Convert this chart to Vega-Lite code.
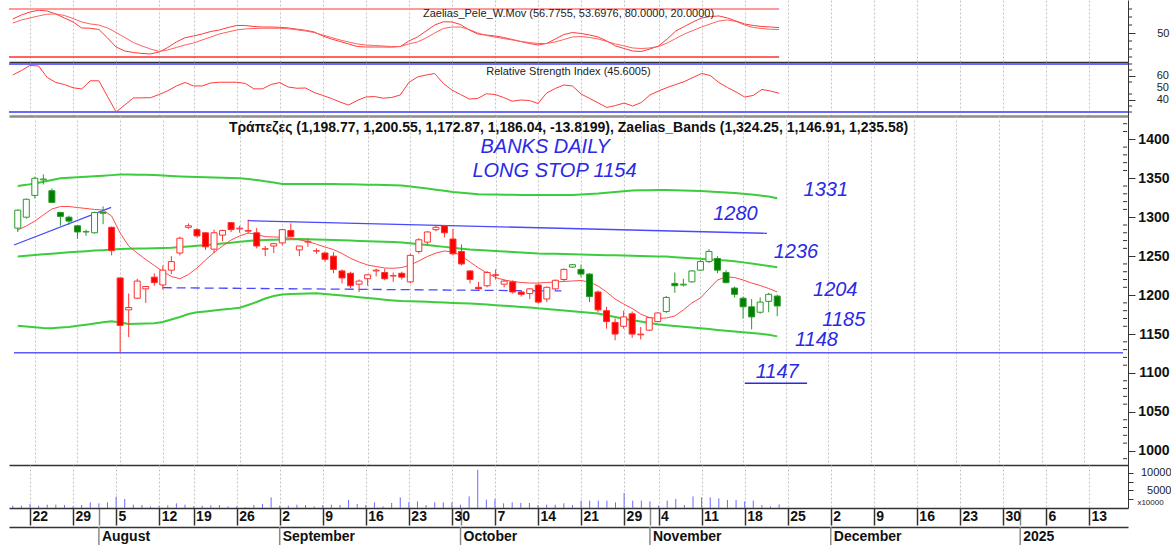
{
  "$schema": "https://vega.github.io/schema/vega-lite/v6.json",
  "padding": {"left": 8, "top": 0, "right": 0, "bottom": 0},
  "spacing": 0,
  "background": "white",
  "resolve": {"scale": {"x": "independent", "y": "independent"}},
  "config": {
    "view": {"stroke": null},
    "font": "Liberation Sans",
    "axis": {"labelFont": "Liberation Sans", "titleFont": "Liberation Sans", "labelOverlap": false},
    "title": {"font": "Liberation Sans"}
  },
  "datasets": {
    "d": [
      {"t":-2,"o":1286,"h":1310,"l":1281,"c":1309,"tr":"bull","ma":1283.6,"ub":1340,"mb":1249.5,"lb":1160.5,"fa":67.5,"sl":62.5,"rsi":60.8,"vol":667},
      {"t":-1,"o":1300,"h":1324,"l":1298,"c":1323,"tr":"bull","ma":1288.7,"ub":1341.5,"mb":1250.5,"lb":1159.7,"fa":72.5,"sl":66.3,"rsi":64.6,"vol":667},
      {"t":0,"o":1328,"h":1352,"l":1324,"c":1350,"tr":"bull","ma":1295,"ub":1343.3,"mb":1251.5,"lb":1158.8,"fa":76.3,"sl":68.8,"rsi":68.8,"vol":1143},
      {"t":1,"o":1348,"h":1355,"l":1342,"c":1349,"tr":"bull","ma":1302.8,"ub":1345.5,"mb":1252.3,"lb":1157.9,"fa":78.4,"sl":71.3,"rsi":68.3,"vol":667},
      {"t":2,"o":1334,"h":1337,"l":1318,"c":1319,"tr":"bull","ma":1310.5,"ub":1347.8,"mb":1253.2,"lb":1157.5,"fa":77.5,"sl":73.5,"rsi":58.8,"vol":952},
      {"t":3,"o":1306,"h":1307,"l":1289,"c":1301,"tr":"bull","ma":1313.7,"ub":1350,"mb":1254,"lb":1158.4,"fa":73.8,"sl":73.8,"rsi":54.6,"vol":952},
      {"t":4,"o":1300,"h":1302,"l":1290,"c":1295,"tr":"bull","ma":1313.7,"ub":1350.7,"mb":1254.9,"lb":1159.2,"fa":68.8,"sl":71.9,"rsi":52.9,"vol":857},
      {"t":5,"o":1289,"h":1290,"l":1272,"c":1281,"tr":"bull","ma":1312.4,"ub":1351.3,"mb":1255.7,"lb":1160.5,"fa":63.8,"sl":68.1,"rsi":50.2,"vol":476},
      {"t":6,"o":1281,"h":1284,"l":1276,"c":1281.5,"tr":"bull","ma":1311.2,"ub":1352,"mb":1256.4,"lb":1162,"fa":56.3,"sl":63.8,"rsi":49.2,"vol":857},
      {"t":7,"o":1280,"h":1307,"l":1279,"c":1306,"tr":"bull","ma":1309.9,"ub":1352.6,"mb":1257.1,"lb":1163.5,"fa":55.9,"sl":61.3,"rsi":56,"vol":1619},
      {"t":8,"o":1305,"h":1314,"l":1291,"c":1306,"tr":"bull","ma":1309.2,"ub":1353.3,"mb":1257.7,"lb":1165.1,"fa":54.4,"sl":60,"rsi":56,"vol":1333},
      {"t":9,"o":1287,"h":1288,"l":1251,"c":1257,"tr":"bear","ma":1301.5,"ub":1354,"mb":1258.4,"lb":1166.4,"fa":43.8,"sl":56.3,"rsi":42.9,"vol":1619},
      {"t":10,"o":1222,"h":1222,"l":1126,"c":1161,"tr":"bear","ma":1279.7,"ub":1354.8,"mb":1259.1,"lb":1164.8,"fa":32.5,"sl":50.6,"rsi":30,"vol":3238},
      {"t":11,"o":1181,"h":1202,"l":1146,"c":1184,"tr":"bear","ma":1263,"ub":1354.8,"mb":1259.4,"lb":1162.9,"fa":27.5,"sl":44.4,"rsi":35.8,"vol":2571},
      {"t":12,"o":1196,"h":1221,"l":1195,"c":1218,"tr":"bear","ma":1254,"ub":1354.6,"mb":1259.7,"lb":1163.2,"fa":25.6,"sl":38.1,"rsi":41.7,"vol":952},
      {"t":13,"o":1208,"h":1211,"l":1190,"c":1211,"tr":"bear","ma":1245.7,"ub":1354.4,"mb":1259.9,"lb":1163.4,"fa":24.4,"sl":33.8,"rsi":41.8,"vol":857},
      {"t":14,"o":1223,"h":1228,"l":1212,"c":1216,"tr":"bear","ma":1238,"ub":1354.2,"mb":1260.2,"lb":1163.8,"fa":23.8,"sl":30,"rsi":41.9,"vol":476},
      {"t":15,"o":1213,"h":1238,"l":1207,"c":1232,"tr":"bear","ma":1230.3,"ub":1353.5,"mb":1260.5,"lb":1165.5,"fa":26.3,"sl":26.9,"rsi":44.6,"vol":667},
      {"t":16,"o":1232,"h":1250,"l":1227,"c":1243,"tr":"bear","ma":1223.9,"ub":1352.8,"mb":1260.8,"lb":1168.7,"fa":31.9,"sl":28.8,"rsi":47.7,"vol":762},
      {"t":17,"o":1254,"h":1275,"l":1251,"c":1273,"tr":"bear","ma":1221,"ub":1352.2,"mb":1261.6,"lb":1171.9,"fa":38.8,"sl":31.9,"rsi":51.7,"vol":1333},
      {"t":18,"o":1287,"h":1292,"l":1285,"c":1289,"tr":"bear","ma":1226.4,"ub":1351.8,"mb":1262.4,"lb":1175.7,"fa":44.1,"sl":35,"rsi":54.6,"vol":952},
      {"t":19,"o":1284,"h":1286,"l":1274,"c":1276,"tr":"bear","ma":1234.8,"ub":1351.5,"mb":1263.3,"lb":1177.9,"fa":46.3,"sl":37.5,"rsi":51.7,"vol":476},
      {"t":20,"o":1280,"h":1281,"l":1258,"c":1262,"tr":"bear","ma":1245,"ub":1351.2,"mb":1264.1,"lb":1179,"fa":48.8,"sl":41.3,"rsi":51.7,"vol":667},
      {"t":21,"o":1259,"h":1284,"l":1254,"c":1280,"tr":"bear","ma":1254.7,"ub":1350.9,"mb":1265.2,"lb":1180.2,"fa":51.9,"sl":45,"rsi":54.2,"vol":762},
      {"t":22,"o":1277,"h":1284,"l":1269,"c":1283,"tr":"bear","ma":1263,"ub":1350.6,"mb":1266.3,"lb":1181.5,"fa":53.8,"sl":48.8,"rsi":54.8,"vol":857},
      {"t":23,"o":1293,"h":1294,"l":1281,"c":1284,"tr":"bear","ma":1270.7,"ub":1350.3,"mb":1267.3,"lb":1182.4,"fa":56.9,"sl":51.3,"rsi":54.8,"vol":476},
      {"t":24,"o":1285,"h":1289,"l":1280,"c":1286,"tr":"bear","ma":1275.9,"ub":1350,"mb":1268.4,"lb":1183.7,"fa":59.4,"sl":53.8,"rsi":54.8,"vol":476},
      {"t":25,"o":1282,"h":1297,"l":1279,"c":1283,"tr":"bear","ma":1279.7,"ub":1349,"mb":1269.4,"lb":1187.3,"fa":59.4,"sl":55,"rsi":53.8,"vol":300},
      {"t":26,"o":1280,"h":1286,"l":1260,"c":1263,"tr":"bear","ma":1278,"ub":1347.8,"mb":1270.5,"lb":1191.1,"fa":58.1,"sl":55.6,"rsi":49.3,"vol":857},
      {"t":27,"o":1259,"h":1263,"l":1250,"c":1259.5,"tr":"bear","ma":1275,"ub":1346,"mb":1270.8,"lb":1195.6,"fa":57.5,"sl":55.9,"rsi":49.3,"vol":1143},
      {"t":28,"o":1263,"h":1267,"l":1254,"c":1266,"tr":"bear","ma":1274.6,"ub":1344.5,"mb":1271.1,"lb":1198.8,"fa":57.5,"sl":55.9,"rsi":52.9,"vol":3048},
      {"t":29,"o":1267,"h":1285,"l":1264,"c":1284,"tr":"bear","ma":1274.3,"ub":1342.6,"mb":1271.4,"lb":1200.8,"fa":57.1,"sl":55.9,"rsi":54.6,"vol":667},
      {"t":30,"o":1283,"h":1292,"l":1274,"c":1275,"tr":"bear","ma":1272.8,"ub":1342.6,"mb":1271.7,"lb":1201.4,"fa":56.3,"sl":55.3,"rsi":50.8,"vol":667},
      {"t":31,"o":1258,"h":1263,"l":1250,"c":1263,"tr":"bear","ma":1271,"ub":1342.6,"mb":1272,"lb":1201.8,"fa":54.8,"sl":54,"rsi":49.8,"vol":952},
      {"t":32,"o":1268,"h":1273,"l":1262,"c":1269,"tr":"bear","ma":1268.8,"ub":1342.6,"mb":1271.7,"lb":1202.2,"fa":53.4,"sl":52.5,"rsi":50,"vol":857},
      {"t":33,"o":1256.5,"h":1260,"l":1253,"c":1257,"tr":"bear","ma":1265.3,"ub":1342.6,"mb":1271.4,"lb":1202.3,"fa":51.3,"sl":50.6,"rsi":46.3,"vol":476},
      {"t":34,"o":1254,"h":1256,"l":1243,"c":1246,"tr":"bear","ma":1261.7,"ub":1342.6,"mb":1271.1,"lb":1201.5,"fa":46.3,"sl":47.5,"rsi":43.8,"vol":857},
      {"t":35,"o":1250,"h":1255,"l":1228,"c":1233,"tr":"bear","ma":1258.4,"ub":1342.6,"mb":1270.8,"lb":1200.5,"fa":42.5,"sl":44.4,"rsi":41.3,"vol":952},
      {"t":36,"o":1231,"h":1233,"l":1215,"c":1222,"tr":"bear","ma":1253.4,"ub":1342.4,"mb":1270.4,"lb":1199.5,"fa":39.4,"sl":41.3,"rsi":38.3,"vol":857},
      {"t":37,"o":1228,"h":1230,"l":1209,"c":1212,"tr":"bear","ma":1247.2,"ub":1342.2,"mb":1270,"lb":1198.4,"fa":36.3,"sl":38.8,"rsi":35.8,"vol":2286},
      {"t":38,"o":1214,"h":1220,"l":1204,"c":1218,"tr":"bear","ma":1242.5,"ub":1342,"mb":1269.6,"lb":1197.3,"fa":33.1,"sl":36.3,"rsi":39.6,"vol":1143},
      {"t":39,"o":1221,"h":1227,"l":1212,"c":1226,"tr":"bear","ma":1238.6,"ub":1341.8,"mb":1269.2,"lb":1196.3,"fa":32.5,"sl":35,"rsi":42.5,"vol":857},
      {"t":40,"o":1231,"h":1234,"l":1224,"c":1232,"tr":"bear","ma":1236.7,"ub":1341.6,"mb":1268.8,"lb":1195.2,"fa":32.5,"sl":34.4,"rsi":42.9,"vol":1619},
      {"t":41,"o":1229,"h":1234,"l":1219,"c":1221,"tr":"bear","ma":1234.8,"ub":1341.3,"mb":1268.4,"lb":1194.1,"fa":32.5,"sl":33.8,"rsi":41.5,"vol":476},
      {"t":42,"o":1224.5,"h":1229,"l":1217,"c":1225,"tr":"bear","ma":1234.4,"ub":1341,"mb":1268,"lb":1193.2,"fa":32.3,"sl":33.1,"rsi":42.1,"vol":1429},
      {"t":43,"o":1228,"h":1230,"l":1220,"c":1223,"tr":"bear","ma":1235.4,"ub":1340.7,"mb":1267.6,"lb":1192.4,"fa":33.1,"sl":33.1,"rsi":44.2,"vol":3048},
      {"t":44,"o":1217,"h":1253,"l":1215,"c":1251,"tr":"bear","ma":1238.6,"ub":1339.5,"mb":1266.5,"lb":1192,"fa":40,"sl":36.3,"rsi":54.6,"vol":1619},
      {"t":45,"o":1256,"h":1273,"l":1253,"c":1271,"tr":"bear","ma":1243.8,"ub":1338.2,"mb":1265.3,"lb":1191.7,"fa":45,"sl":38.8,"rsi":59.2,"vol":1905},
      {"t":46,"o":1268,"h":1282,"l":1265,"c":1281,"tr":"bear","ma":1249.5,"ub":1336.8,"mb":1264.2,"lb":1191.3,"fa":52.5,"sl":43.8,"rsi":60.8,"vol":857},
      {"t":47,"o":1284,"h":1289,"l":1282,"c":1287,"tr":"bear","ma":1254,"ub":1335.3,"mb":1263,"lb":1190.8,"fa":60,"sl":50,"rsi":62.1,"vol":1619},
      {"t":48,"o":1289,"h":1290,"l":1274,"c":1280,"tr":"bear","ma":1256.6,"ub":1333.8,"mb":1261.9,"lb":1190.4,"fa":64,"sl":55.6,"rsi":53.8,"vol":1619},
      {"t":49,"o":1272,"h":1285,"l":1251,"c":1253,"tr":"bear","ma":1255.3,"ub":1332.4,"mb":1260.8,"lb":1190,"fa":63.8,"sl":57.5,"rsi":48.3,"vol":1619},
      {"t":50,"o":1256,"h":1265,"l":1238,"c":1240,"tr":"bear","ma":1250.2,"ub":1331.3,"mb":1259.6,"lb":1189.6,"fa":60.6,"sl":57.5,"rsi":44.6,"vol":952},
      {"t":51,"o":1231,"h":1232,"l":1215,"c":1220,"tr":"bear","ma":1242.5,"ub":1330.3,"mb":1258.5,"lb":1189.2,"fa":53.8,"sl":54.4,"rsi":40.8,"vol":3333},
      {"t":52,"o":1210,"h":1217,"l":1207,"c":1208,"tr":"bear","ma":1234.8,"ub":1329.4,"mb":1257.9,"lb":1188.6,"fa":48.8,"sl":50,"rsi":41.3,"vol":10952},
      {"t":53,"o":1212,"h":1231,"l":1210,"c":1229,"tr":"bear","ma":1228.4,"ub":1329.2,"mb":1257.2,"lb":1187.8,"fa":47.5,"sl":46.9,"rsi":45.2,"vol":2381},
      {"t":54,"o":1226,"h":1233,"l":1220,"c":1225.5,"tr":"bear","ma":1222.6,"ub":1329,"mb":1256.6,"lb":1187,"fa":46.3,"sl":45,"rsi":44.6,"vol":2571},
      {"t":55,"o":1214,"h":1220,"l":1210,"c":1218,"tr":"bear","ma":1219.4,"ub":1328.8,"mb":1256,"lb":1186.4,"fa":44.4,"sl":43.1,"rsi":42.1,"vol":1333},
      {"t":56,"o":1217,"h":1219,"l":1202,"c":1204,"tr":"bear","ma":1217.5,"ub":1328.7,"mb":1255.4,"lb":1185.6,"fa":41.9,"sl":41.3,"rsi":39,"vol":1619},
      {"t":57,"o":1204,"h":1206,"l":1198,"c":1201,"tr":"bear","ma":1216.2,"ub":1328.6,"mb":1254.7,"lb":1184.8,"fa":39.4,"sl":39.4,"rsi":40,"vol":1429},
      {"t":58,"o":1202,"h":1209,"l":1195,"c":1208,"tr":"bear","ma":1215.5,"ub":1328.5,"mb":1254.1,"lb":1184.1,"fa":36.9,"sl":38.1,"rsi":39.6,"vol":1429},
      {"t":59,"o":1213,"h":1215,"l":1189,"c":1191,"tr":"bear","ma":1215.5,"ub":1328.5,"mb":1253.5,"lb":1183,"fa":35,"sl":36.9,"rsi":37.1,"vol":857},
      {"t":60,"o":1195,"h":1211,"l":1191,"c":1210,"tr":"bear","ma":1216.2,"ub":1328.5,"mb":1253.2,"lb":1182.2,"fa":36.9,"sl":36.9,"rsi":45.8,"vol":952},
      {"t":61,"o":1208,"h":1220,"l":1206,"c":1219,"tr":"bear","ma":1216.8,"ub":1328.5,"mb":1253,"lb":1181.1,"fa":42.5,"sl":38.8,"rsi":49.6,"vol":952},
      {"t":62,"o":1220,"h":1234,"l":1218,"c":1233,"tr":"bear","ma":1217.5,"ub":1328.5,"mb":1252.7,"lb":1180.2,"fa":48.1,"sl":41.9,"rsi":52.5,"vol":1333},
      {"t":63,"o":1236,"h":1240,"l":1235,"c":1239,"tr":"bull","ma":1218.1,"ub":1328.5,"mb":1252.4,"lb":1179.2,"fa":50.6,"sl":45,"rsi":51.7,"vol":857},
      {"t":64,"o":1233,"h":1239,"l":1223,"c":1227,"tr":"bull","ma":1218.7,"ub":1329,"mb":1252.2,"lb":1178.3,"fa":49.4,"sl":45.6,"rsi":45,"vol":2095},
      {"t":65,"o":1227,"h":1228,"l":1191,"c":1198,"tr":"bull","ma":1216.8,"ub":1329.7,"mb":1251.9,"lb":1177.3,"fa":47.5,"sl":44.4,"rsi":41.3,"vol":2095},
      {"t":66,"o":1204,"h":1206,"l":1178,"c":1181,"tr":"bear","ma":1211.7,"ub":1330.4,"mb":1251.6,"lb":1176.4,"fa":45,"sl":42.5,"rsi":37.5,"vol":2095},
      {"t":67,"o":1180,"h":1185,"l":1157,"c":1166,"tr":"bear","ma":1204,"ub":1331.4,"mb":1251.3,"lb":1174.2,"fa":40,"sl":39.4,"rsi":33.8,"vol":2095},
      {"t":68,"o":1165,"h":1170,"l":1142,"c":1150,"tr":"bear","ma":1195,"ub":1332.4,"mb":1251,"lb":1171.9,"fa":33.8,"sl":36.3,"rsi":35.4,"vol":1619},
      {"t":69,"o":1160,"h":1180,"l":1157,"c":1172,"tr":"bear","ma":1188.6,"ub":1333.4,"mb":1250.8,"lb":1169.7,"fa":30.6,"sl":33.8,"rsi":37.5,"vol":4286},
      {"t":70,"o":1176,"h":1179,"l":1145,"c":1150,"tr":"bear","ma":1182.8,"ub":1334.3,"mb":1250.5,"lb":1167.6,"fa":27.5,"sl":31.3,"rsi":35,"vol":2095},
      {"t":71,"o":1149,"h":1159,"l":1143,"c":1150,"tr":"bear","ma":1175.7,"ub":1334.5,"mb":1250.2,"lb":1166,"fa":26.9,"sl":30.6,"rsi":37.9,"vol":2095},
      {"t":72,"o":1155,"h":1172,"l":1154,"c":1171,"tr":"bear","ma":1171.2,"ub":1334.7,"mb":1249.9,"lb":1164.3,"fa":30,"sl":31.3,"rsi":44.2,"vol":1905},
      {"t":73,"o":1166,"h":1178,"l":1165,"c":1177,"tr":"bear","ma":1170,"ub":1334.8,"mb":1249.7,"lb":1162.6,"fa":33.8,"sl":33.1,"rsi":47.5,"vol":667},
      {"t":74,"o":1179,"h":1199,"l":1177,"c":1197,"tr":"bull","ma":1170.6,"ub":1334.9,"mb":1249.4,"lb":1161.4,"fa":42.5,"sl":37.5,"rsi":50.4,"vol":2095},
      {"t":75,"o":1215,"h":1229,"l":1203,"c":1212,"tr":"bull","ma":1173.2,"ub":1334.6,"mb":1248.7,"lb":1160.3,"fa":52.5,"sl":43.1,"rsi":52.9,"vol":2571},
      {"t":76,"o":1213,"h":1221,"l":1211,"c":1214,"tr":"bull","ma":1180.9,"ub":1334.3,"mb":1248,"lb":1159.3,"fa":58.1,"sl":48.8,"rsi":55.4,"vol":857},
      {"t":77,"o":1217,"h":1232,"l":1216,"c":1231,"tr":"bull","ma":1189.9,"ub":1334,"mb":1247.2,"lb":1158.4,"fa":63.8,"sl":53.1,"rsi":58.8,"vol":3333},
      {"t":78,"o":1232,"h":1245,"l":1231,"c":1243,"tr":"bull","ma":1196.3,"ub":1333.6,"mb":1246.5,"lb":1157.4,"fa":68.8,"sl":57.5,"rsi":62.1,"vol":3048},
      {"t":79,"o":1243,"h":1259,"l":1241,"c":1256,"tr":"bull","ma":1207.8,"ub":1333,"mb":1245.7,"lb":1156.4,"fa":70.6,"sl":61.3,"rsi":60.4,"vol":3048},
      {"t":80,"o":1247,"h":1250,"l":1228,"c":1232,"tr":"bull","ma":1219.4,"ub":1332.4,"mb":1245,"lb":1155.3,"fa":71.3,"sl":65,"rsi":54.6,"vol":2762},
      {"t":81,"o":1229,"h":1232,"l":1215,"c":1216,"tr":"bull","ma":1223.2,"ub":1331.8,"mb":1244.3,"lb":1154.3,"fa":68.8,"sl":66.3,"rsi":50.4,"vol":2286},
      {"t":82,"o":1209,"h":1211,"l":1197,"c":1201,"tr":"bull","ma":1222.6,"ub":1331.1,"mb":1243.5,"lb":1153.4,"fa":65,"sl":64.4,"rsi":46.7,"vol":2286},
      {"t":83,"o":1196,"h":1198,"l":1170,"c":1185,"tr":"bull","ma":1219.4,"ub":1330,"mb":1242,"lb":1152.4,"fa":61.3,"sl":60,"rsi":42.5,"vol":1905},
      {"t":84,"o":1185,"h":1195,"l":1156,"c":1172,"tr":"bull","ma":1215.5,"ub":1329,"mb":1240.5,"lb":1151.3,"fa":59.4,"sl":56.9,"rsi":43.8,"vol":2095},
      {"t":85,"o":1178,"h":1197,"l":1176,"c":1191,"tr":"bull","ma":1212.3,"ub":1327.9,"mb":1239,"lb":1150.3,"fa":58.1,"sl":55.6,"rsi":48.8,"vol":857},
      {"t":86,"o":1192,"h":1203,"l":1178,"c":1201,"tr":"bull","ma":1208.5,"ub":1326.5,"mb":1237.3,"lb":1149.2,"fa":57.5,"sl":54.6,"rsi":47.5,"vol":476},
      {"t":87,"o":1198.77,"h":1200.55,"l":1172.87,"c":1186.04,"tr":"bull","ma":1204,"ub":1324.3,"mb":1235.6,"lb":1147,"fa":56.8,"sl":54.4,"rsi":45.6,"vol":1048}
    ],
    "ann": [
      {"t":59.8,"v":1390.5,"label":"BANKS DAILY"},
      {"t":60.9,"v":1359.3,"label":"LONG STOP 1154"},
      {"t":92.7,"v":1334.9,"label":"1331"},
      {"t":82.1,"v":1303.5,"label":"1280"},
      {"t":89.2,"v":1254.7,"label":"1236"},
      {"t":93.8,"v":1206.5,"label":"1204"},
      {"t":94.8,"v":1168,"label":"1185"},
      {"t":91.6,"v":1142.3,"label":"1148"},
      {"t":87,"v":1101.3,"label":"1147"}
    ],
    "trendlines": [
      {"id":"a","t":-2.44,"v":1264.3},
      {"id":"a","t":8.94,"v":1312.7},
      {"id":"b","t":24.97,"v":1295.5},
      {"id":"b","t":85.8,"v":1279.3}
    ],
    "dashline": [
      {"t":14.98,"v":1209.5},
      {"t":61.7,"v":1205.3}
    ],
    "months": [
      {"t":8,"label":"August"},
      {"t":29,"label":"September"},
      {"t":50,"label":"October"},
      {"t":72,"label":"November"},
      {"t":93,"label":"December"},
      {"t":115,"label":"2025"}
    ]
  },
  "vconcat": [
    {
      "width": 1119, "height": 62,
      "title": {"text": "Zaelias_Pele_W.Mov (56.7755, 53.6976, 80.0000, 20.0000)", "fontSize": 11, "fontWeight": "normal", "color": "#222222", "anchor": "middle", "offset": -19},
      "data": {"name": "d"},
      "layer": [
        {"mark": {"type": "line", "color": "#ff3b3b", "strokeWidth": 1},
         "encoding": {
           "x": {"field": "t", "type": "quantitative", "scale": {"domain": [-2.44, 127.52], "nice": false, "zero": false},
                 "axis": {"values": [0,5,10,15,19,24,29,34,39,44,49,54,59,64,69,73,78,83,88,93,98,103,108,113,118,123], "grid": true, "gridDash": [2,2], "gridColor": "#c4c4c4", "ticks": false, "labels": false, "domain": true, "domainColor": "#333333", "domainWidth": 1.5, "title": null}},
           "y": {"field": "fa", "type": "quantitative", "scale": {"domain": [13.75, 91.25], "nice": false, "zero": false},
                 "axis": {"orient": "right", "values": [50], "labelOverlap": false, "grid": false, "domainColor": "#333333", "tickColor": "#333333", "tickSize": 7, "labelAlign": "right", "labelPadding": 34, "labelFontSize": 11, "labelColor": "#222222", "title": null}}
         }},
        {"mark": {"type": "line", "color": "#ff6060", "strokeWidth": 1},
         "encoding": {
           "x": {"field": "t", "type": "quantitative", "scale": {"domain": [-2.44, 127.52], "nice": false, "zero": false}},
           "y": {"field": "sl", "type": "quantitative", "scale": {"domain": [13.75, 91.25], "nice": false, "zero": false}}
         }},
        {"data": {"values": [{}]},
         "mark": {"type": "rule", "color": "#ff9a9a", "strokeWidth": 2},
         "encoding": {
           "x": {"datum": -2.44, "type": "quantitative", "scale": {"domain": [-2.44, 127.52], "nice": false, "zero": false}},
           "x2": {"datum": 87},
           "y": {"datum": 80, "type": "quantitative", "scale": {"domain": [13.75, 91.25], "nice": false, "zero": false}}
         }},
        {"data": {"values": [{}]},
         "mark": {"type": "rule", "color": "#ff3030", "strokeWidth": 1.5},
         "encoding": {
           "x": {"datum": -2.44, "type": "quantitative", "scale": {"domain": [-2.44, 127.52], "nice": false, "zero": false}},
           "x2": {"datum": 87},
           "y": {"datum": 20, "type": "quantitative", "scale": {"domain": [13.75, 91.25], "nice": false, "zero": false}}
         }},
        {"data": {"values": [{"v":20},{"v":30},{"v":40},{"v":60},{"v":70},{"v":80}]},
         "mark": {"type": "rule", "color": "#333333", "strokeWidth": 1},
         "encoding": {
           "x": {"datum": 127.52, "type": "quantitative", "scale": {"domain": [-2.44, 127.52], "nice": false, "zero": false}},
           "x2": {"datum": 128.0},
           "y": {"field": "v", "type": "quantitative", "scale": {"domain": [13.75, 91.25], "nice": false, "zero": false}}
         }}
      ]
    },
    {
      "width": 1119, "height": 54,
      "title": {"text": "Relative Strength Index (45.6005)", "fontSize": 11, "fontWeight": "normal", "color": "#222222", "anchor": "middle", "offset": -15},
      "data": {"name": "d"},
      "layer": [
        {"mark": {"type": "line", "color": "#ff3b3b", "strokeWidth": 1},
         "encoding": {
           "x": {"field": "t", "type": "quantitative", "scale": {"domain": [-2.44, 127.52], "nice": false, "zero": false},
                 "axis": {"values": [0,5,10,15,19,24,29,34,39,44,49,54,59,64,69,73,78,83,88,93,98,103,108,113,118,123], "grid": true, "gridDash": [2,2], "gridColor": "#c4c4c4", "ticks": false, "labels": false, "domain": true, "domainColor": "#8c8c8c", "domainWidth": 2.5, "title": null}},
           "y": {"field": "rsi", "type": "quantitative", "scale": {"domain": [26.67, 71.67], "nice": false, "zero": false},
                 "axis": {"orient": "right", "values": [40, 50, 60], "labels": false, "grid": false, "domainColor": "#333333", "tickColor": "#333333", "tickSize": 7, "title": null}}
         }},
        {"data": {"values": [{}]},
         "mark": {"type": "rule", "color": "#6a6aff", "strokeWidth": 2},
         "encoding": {
           "x": {"datum": -2.44, "type": "quantitative", "scale": {"domain": [-2.44, 127.52], "nice": false, "zero": false}},
           "x2": {"datum": 127.52},
           "y": {"datum": 70, "type": "quantitative", "scale": {"domain": [26.67, 71.67], "nice": false, "zero": false}}
         }},
        {"data": {"values": [{}]},
         "mark": {"type": "rule", "color": "#6a6aff", "strokeWidth": 2},
         "encoding": {
           "x": {"datum": -2.44, "type": "quantitative", "scale": {"domain": [-2.44, 127.52], "nice": false, "zero": false}},
           "x2": {"datum": 127.52},
           "y": {"datum": 30, "type": "quantitative", "scale": {"domain": [26.67, 71.67], "nice": false, "zero": false}}
         }},
        {"data": {"values": [{"v":30},{"v":35},{"v":45},{"v":55},{"v":65},{"v":70}]},
         "mark": {"type": "rule", "color": "#333333", "strokeWidth": 1},
         "encoding": {
           "x": {"datum": 127.52, "type": "quantitative", "scale": {"domain": [-2.44, 127.52], "nice": false, "zero": false}},
           "x2": {"datum": 128.0},
           "y": {"field": "v", "type": "quantitative", "scale": {"domain": [26.67, 71.67], "nice": false, "zero": false}}
         }},
        {"data": {"values": [{"v":40,"label":"40"},{"v":50,"label":"50"},{"v":60,"label":"60"}]},
         "mark": {"type": "text", "align": "right", "baseline": "middle", "dx": 41, "fontSize": 11, "color": "#222222"},
         "encoding": {
           "x": {"datum": 127.52, "type": "quantitative", "scale": {"domain": [-2.44, 127.52], "nice": false, "zero": false}},
           "y": {"field": "v", "type": "quantitative", "scale": {"domain": [26.67, 71.67], "nice": false, "zero": false}},
           "text": {"field": "label", "type": "nominal"}
         }}
      ]
    },
    {
      "width": 1119, "height": 349,
      "title": {"text": "Τράπεζες (1,198.77, 1,200.55, 1,172.87, 1,186.04, -13.8199), Zaelias_Bands (1,324.25, 1,146.91, 1,235.58)", "fontSize": 14, "fontWeight": "bold", "color": "#111111", "anchor": "middle", "offset": -19},
      "layer": [
        {"data": {"name": "d"},
         "mark": {"type": "line", "color": "#3ccc3c", "strokeWidth": 2},
         "encoding": {
           "x": {"field": "t", "type": "quantitative", "scale": {"domain": [-2.44, 127.52], "nice": false, "zero": false},
                 "axis": {"values": [0,5,10,15,19,24,29,34,39,44,49,54,59,64,69,73,78,83,88,93,98,103,108,113,118,123], "grid": true, "gridDash": [2,2], "gridColor": "#c4c4c4", "ticks": false, "labels": false, "domain": true, "domainColor": "#333333", "domainWidth": 1.5, "title": null}},
           "y": {"field": "ub", "type": "quantitative", "scale": {"domain": [981.9, 1429.9], "nice": false, "zero": false},
                 "axis": {"orient": "right", "values": [1000,1050,1100,1150,1200,1250,1300,1350,1400], "format": "d", "labelOverlap": false, "grid": false, "domainColor": "#333333", "tickColor": "#333333", "tickSize": 7, "labelAlign": "right", "labelPadding": 34, "labelFontSize": 14, "labelFontWeight": "bold", "labelColor": "#111111", "title": null}}
         }},
        {"data": {"values": [{}]},
         "mark": {"type": "rule", "color": "#5a5aff", "strokeWidth": 1.5},
         "encoding": {
           "x": {"datum": -2.44, "type": "quantitative", "scale": {"domain": [-2.44, 127.52], "nice": false, "zero": false}},
           "x2": {"datum": 127.52},
           "y": {"datum": 1126, "type": "quantitative", "scale": {"domain": [981.9, 1429.9], "nice": false, "zero": false}}
         }},
        {"data": {"name": "d"},
         "mark": {"type": "line", "color": "#3ccc3c", "strokeWidth": 2},
         "encoding": {
           "x": {"field": "t", "type": "quantitative", "scale": {"domain": [-2.44, 127.52], "nice": false, "zero": false}},
           "y": {"field": "mb", "type": "quantitative", "scale": {"domain": [981.9, 1429.9], "nice": false, "zero": false}}
         }},
        {"data": {"name": "d"},
         "mark": {"type": "line", "color": "#3ccc3c", "strokeWidth": 2},
         "encoding": {
           "x": {"field": "t", "type": "quantitative", "scale": {"domain": [-2.44, 127.52], "nice": false, "zero": false}},
           "y": {"field": "lb", "type": "quantitative", "scale": {"domain": [981.9, 1429.9], "nice": false, "zero": false}}
         }},
        {"data": {"name": "d"},
         "mark": {"type": "line", "color": "#ff4a4a", "strokeWidth": 1},
         "encoding": {
           "x": {"field": "t", "type": "quantitative", "scale": {"domain": [-2.44, 127.52], "nice": false, "zero": false}},
           "y": {"field": "ma", "type": "quantitative", "scale": {"domain": [981.9, 1429.9], "nice": false, "zero": false}}
         }},
        {"data": {"name": "trendlines"},
         "mark": {"type": "line", "color": "#4848ff", "strokeWidth": 1.3},
         "encoding": {
           "x": {"field": "t", "type": "quantitative", "scale": {"domain": [-2.44, 127.52], "nice": false, "zero": false}},
           "y": {"field": "v", "type": "quantitative", "scale": {"domain": [981.9, 1429.9], "nice": false, "zero": false}},
           "detail": {"field": "id", "type": "nominal"}
         }},
        {"data": {"name": "dashline"},
         "mark": {"type": "line", "color": "#4848ff", "strokeWidth": 1.3, "strokeDash": [9, 5]},
         "encoding": {
           "x": {"field": "t", "type": "quantitative", "scale": {"domain": [-2.44, 127.52], "nice": false, "zero": false}},
           "y": {"field": "v", "type": "quantitative", "scale": {"domain": [981.9, 1429.9], "nice": false, "zero": false}}
         }},
        {"data": {"name": "d"},
         "mark": {"type": "rule", "strokeWidth": 1},
         "encoding": {
           "x": {"field": "t", "type": "quantitative", "scale": {"domain": [-2.44, 127.52], "nice": false, "zero": false}},
           "y": {"field": "l", "type": "quantitative", "scale": {"domain": [981.9, 1429.9], "nice": false, "zero": false}},
           "y2": {"field": "h"},
           "stroke": {"field": "tr", "type": "nominal", "scale": {"domain": ["bear", "bull"], "range": ["#ff3030", "#2a9a2a"]}, "legend": null}
         }},
        {"data": {"name": "d"},
         "mark": {"type": "bar", "size": 6, "strokeWidth": 1},
         "encoding": {
           "x": {"field": "t", "type": "quantitative", "scale": {"domain": [-2.44, 127.52], "nice": false, "zero": false}},
           "y": {"field": "o", "type": "quantitative", "scale": {"domain": [981.9, 1429.9], "nice": false, "zero": false}},
           "y2": {"field": "c"},
           "stroke": {"field": "tr", "type": "nominal", "scale": {"domain": ["bear", "bull"], "range": ["#ff3030", "#2a9a2a"]}, "legend": null},
           "fill": {"condition": {"test": "datum.c < datum.o", "field": "tr", "type": "nominal", "scale": {"domain": ["bear", "bull"], "range": ["#ff0000", "#008000"]}, "legend": null}, "value": "#ffffff"}
         }},
        {"data": {"name": "ann"},
         "mark": {"type": "text", "font": "Liberation Sans", "fontStyle": "italic", "fontSize": 20, "color": "#2a2ae6", "align": "center", "baseline": "middle"},
         "encoding": {
           "x": {"field": "t", "type": "quantitative", "scale": {"domain": [-2.44, 127.52], "nice": false, "zero": false}},
           "y": {"field": "v", "type": "quantitative", "scale": {"domain": [981.9, 1429.9], "nice": false, "zero": false}},
           "text": {"field": "label", "type": "nominal"}
         }},
        {"data": {"values": [{}]},
         "mark": {"type": "rule", "color": "#2a2ae6", "strokeWidth": 1.5},
         "encoding": {
           "x": {"datum": 83.2, "type": "quantitative", "scale": {"domain": [-2.44, 127.52], "nice": false, "zero": false}},
           "x2": {"datum": 90.5},
           "y": {"datum": 1087, "type": "quantitative", "scale": {"domain": [981.9, 1429.9], "nice": false, "zero": false}}
         }},
        {"data": {"values": [{"v":990},{"v":1010},{"v":1020},{"v":1030},{"v":1040},{"v":1060},{"v":1070},{"v":1080},{"v":1090},{"v":1110},{"v":1120},{"v":1130},{"v":1140},{"v":1160},{"v":1170},{"v":1180},{"v":1190},{"v":1210},{"v":1220},{"v":1230},{"v":1240},{"v":1260},{"v":1270},{"v":1280},{"v":1290},{"v":1310},{"v":1320},{"v":1330},{"v":1340},{"v":1360},{"v":1370},{"v":1380},{"v":1390},{"v":1410},{"v":1420}]},
         "mark": {"type": "rule", "color": "#333333", "strokeWidth": 1},
         "encoding": {
           "x": {"datum": 127.52, "type": "quantitative", "scale": {"domain": [-2.44, 127.52], "nice": false, "zero": false}},
           "x2": {"datum": 128.0},
           "y": {"field": "v", "type": "quantitative", "scale": {"domain": [981.9, 1429.9], "nice": false, "zero": false}}
         }}
      ]
    },
    {
      "width": 1119, "height": 43,
      "data": {"name": "d"},
      "mark": {"type": "rule", "color": "#6a6aff", "strokeWidth": 1},
      "encoding": {
        "x": {"field": "t", "type": "quantitative", "scale": {"domain": [-2.44, 127.52], "nice": false, "zero": false},
              "axis": {"values": [0,5,8,10,15,19,24,29,34,39,44,49,50,54,59,64,69,72,73,78,83,88,93,98,103,108,113,115,118,123],
                       "grid": true, "gridDash": [2,2], "gridColor": "#c4c4c4",
                       "gridOpacity": {"condition": {"test": "indexof([8,50,72,115], datum.value) >= 0", "value": 0}, "value": 1},
                       "ticks": true, "tickSize": 17, "tickWidth": 1.5,
                       "tickColor": {"condition": {"test": "indexof([8,50,72,115], datum.value) >= 0", "value": "#8a8a8a"}, "value": "#333333"},
                       "labelExpr": "['22','29','5','12','19','26','2','9','16','23','30','7','14','21','29','4','11','18','25','2','9','16','23','30','6','13'][indexof([0,5,10,15,19,24,29,34,39,44,49,54,59,64,69,73,78,83,88,93,98,103,108,113,118,123], datum.value)] || ''",
                       "labelAlign": "left", "labelBaseline": "top", "labelPadding": -16, "labelOffset": 2,
                       "labelFontSize": 14, "labelFontWeight": "bold", "labelColor": "#111111",
                       "labelOverlap": false, "labelBound": false, "labelFlush": false,
                       "domain": true, "domainColor": "#333333", "domainWidth": 1.5, "title": null}},
        "y": {"field": "vol", "type": "quantitative", "scale": {"domain": [0, 12285], "nice": false, "zero": false},
              "axis": {"orient": "right", "values": [2500, 5000, 7500, 10000], "labelExpr": "datum.value % 5000 == 0 ? '' + datum.value : ''", "labelOverlap": false, "grid": false, "domainColor": "#333333", "tickColor": "#333333", "tickSize": 5, "labelAlign": "right", "labelPadding": 38, "labelFontSize": 11, "labelColor": "#222222",
                       "title": "x10000", "titleAngle": 0, "titleFontSize": 8, "titleFontWeight": "normal", "titleColor": "#222222", "titleX": 22, "titleY": 37, "titleAlign": "center", "titleBaseline": "middle"}},
        "y2": {"datum": 0}
      }
    },
    {
      "width": 1119, "height": 20,
      "data": {"name": "months"},
      "layer": [
        {"mark": {"type": "rule", "color": "#8a8a8a", "strokeWidth": 1.5},
         "encoding": {
           "x": {"field": "t", "type": "quantitative", "scale": {"domain": [-2.44, 127.52], "nice": false, "zero": false},
                 "axis": {"orient": "top", "labels": false, "ticks": false, "grid": false, "domain": true, "domainColor": "#333333", "domainWidth": 1.5, "title": null}}
         }},
        {"mark": {"type": "text", "align": "left", "baseline": "middle", "dx": 3, "fontSize": 14, "fontWeight": "bold", "color": "#111111"},
         "encoding": {
           "x": {"field": "t", "type": "quantitative", "scale": {"domain": [-2.44, 127.52], "nice": false, "zero": false}},
           "text": {"field": "label", "type": "nominal"}
         }}
      ]
    }
  ]
}
